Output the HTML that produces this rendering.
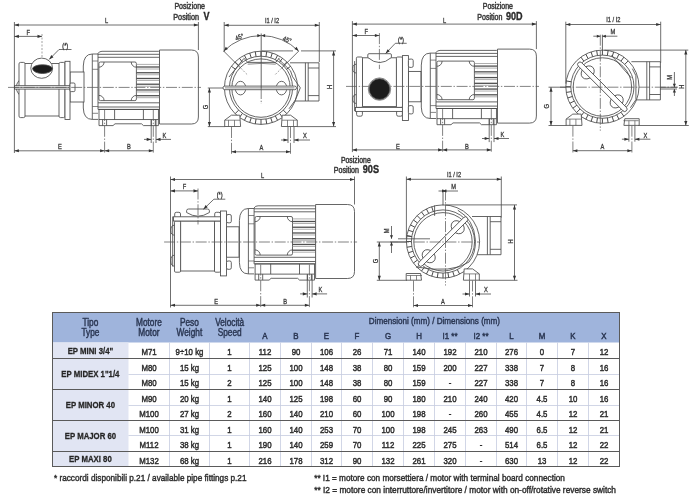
<!DOCTYPE html>
<html><head><meta charset="utf-8"><style>
html,body{margin:0;padding:0;background:#fff;width:694px;height:500px;overflow:hidden}
svg{display:block;will-change:transform}
</style></head><body>
<svg width="694" height="500" viewBox="0 0 694 500">
<style>
.l{stroke:#4a4a4a;stroke-width:.85;fill:none}
.lt{stroke:#555;stroke-width:.7;fill:none}
.dl{stroke:#4a4a4a;stroke-width:.8;fill:none}
.c{stroke:#5a5a5a;stroke-width:.75;fill:none;stroke-dasharray:11 1.7 1.4 1.7}
.ds{stroke:#666;stroke-width:.6;fill:none;stroke-dasharray:2 1.5}
.a{fill:#333;stroke:none}
.fin{fill:#aaa;fill-opacity:.25;stroke:none}
.fd{stroke:#505050;stroke-width:1.3;fill:none}
.fl{stroke:#9a9a9a;stroke-width:.8;fill:none}
.fb{stroke:#4a4a4a;stroke-width:1.0;fill:none}
.tb{stroke:#5a5a5a;stroke-width:1;fill:none}
.tg{stroke:#c5cbe0;stroke-width:.8;fill:none}
text{font-family:"Liberation Sans",sans-serif}
</style>
<rect width="694" height="500" fill="#fff"/>
<defs>
<g id="ms">
<path class="l" d="M98,54 H92.3 Q83.6,54 83.3,66 V108 Q83.6,119.4 92.3,119.4 H98" style="fill:#fff"/>
<line class="l" x1="92.30" y1="54.00" x2="92.30" y2="119.40"/>
<line class="lt" x1="92.30" y1="61.00" x2="98.00" y2="61.00"/>
<line class="lt" x1="92.30" y1="69.30" x2="98.00" y2="69.30"/>
<line class="lt" x1="92.30" y1="106.50" x2="98.00" y2="106.50"/>
<line class="lt" x1="92.30" y1="113.30" x2="98.00" y2="113.30"/>
<path class="l" d="M98,109.4 V53.5 Q99,51.3 102,51.3 H158.5 Q160,51.3 160,53 V109.4 Z" style="fill:#fff"/>
<line class="l" x1="98.00" y1="54.30" x2="160.00" y2="54.30"/>
<line class="l" x1="98.00" y1="57.30" x2="160.00" y2="57.30"/>
<line class="l" x1="98.00" y1="102.80" x2="160.00" y2="102.80"/>
<line class="l" x1="98.00" y1="107.00" x2="160.00" y2="107.00"/>
<rect class="l" x="98.90" y="62.00" width="37.50" height="38.60" rx="1.5"/>
<path class="l" d="M98.9,67.2 A5.2,5.2 0 0 0 104.10000000000001,62"/>
<path class="l" d="M131.20000000000002,62 A5.2,5.2 0 0 0 136.4,67.2"/>
<path class="l" d="M98.9,95.39999999999999 A5.2,5.2 0 0 1 104.10000000000001,100.6"/>
<path class="l" d="M131.20000000000002,100.6 A5.2,5.2 0 0 1 136.4,95.39999999999999"/>
<line class="fl" x1="136.40" y1="64.40" x2="159.60" y2="64.40"/>
<line class="fd" x1="136.40" y1="67.00" x2="159.60" y2="67.00"/>
<line class="fl" x1="136.40" y1="69.00" x2="159.60" y2="69.00"/>
<line class="fd" x1="136.40" y1="72.74" x2="159.60" y2="72.74"/>
<line class="fl" x1="136.40" y1="74.74" x2="159.60" y2="74.74"/>
<line class="fd" x1="136.40" y1="78.48" x2="159.60" y2="78.48"/>
<line class="fl" x1="136.40" y1="80.48" x2="159.60" y2="80.48"/>
<line class="fd" x1="136.40" y1="84.22" x2="159.60" y2="84.22"/>
<line class="fl" x1="136.40" y1="86.22" x2="159.60" y2="86.22"/>
<line class="fd" x1="136.40" y1="89.96" x2="159.60" y2="89.96"/>
<line class="fl" x1="136.40" y1="91.96" x2="159.60" y2="91.96"/>
<line class="fd" x1="136.40" y1="95.70" x2="159.60" y2="95.70"/>
<line class="fl" x1="136.40" y1="97.70" x2="159.60" y2="97.70"/>
<rect class="l" x="99.00" y="109.40" width="59.40" height="10.20" rx="0"/>
<line class="l" x1="114.60" y1="109.40" x2="114.60" y2="119.60"/>
<line class="l" x1="143.40" y1="109.40" x2="143.40" y2="119.60"/>
<path class="l" d="M99,119.6 V125.6 H113 L115,123.8 H141.5 L143.5,125.6 H158.4 V119.6"/>
<line class="l" x1="102.60" y1="119.60" x2="102.60" y2="125.60"/>
<line class="l" x1="106.60" y1="119.60" x2="106.60" y2="125.60"/>
<line class="l" x1="151.30" y1="119.60" x2="151.30" y2="125.60"/>
<line class="l" x1="155.30" y1="119.60" x2="155.30" y2="125.60"/>
<path class="l" d="M159.5,50 H191.4 Q198.4,50 198.4,57 V117 Q198.4,124 191.4,124 H159.5 Z" style="fill:#fff"/>
</g>
<g id="eb">
<path class="l" d="M29,-25.0 H58 V13.2 H29" style="fill:#fff"/>
<line class="l" x1="44.40" y1="-25.00" x2="44.40" y2="13.20"/>
<line class="l" x1="47.20" y1="-25.00" x2="47.20" y2="13.20"/>
<path class="l" d="M58,-19.8 H47.2"/>
<path class="l" d="M58,7.799999999999999 H47.2"/>
<circle class="l" cx="0.00" cy="0.00" r="36.60" style="fill:#fff"/>
<circle class="l" cx="0.00" cy="0.00" r="31.60"/>
<circle class="l" cx="0.00" cy="0.30" r="29.20"/>
</g>
</defs>
<use href="#ms"/>
<rect class="l" x="70.00" y="72.00" width="14.00" height="30.00" rx="0" style="fill:#fff"/>
<path class="l" d="M19,80.5 Q13.5,87.4 19,94.5"/>
<rect class="l" x="19.00" y="62.40" width="6.00" height="55.20" rx="1.5" style="fill:#fff"/>
<line class="l" x1="25.00" y1="63.50" x2="59.00" y2="63.50"/>
<line class="l" x1="25.00" y1="116.00" x2="59.00" y2="116.00"/>
<rect class="l" x="59.00" y="62.40" width="6.00" height="55.20" rx="1.5" style="fill:#fff"/>
<rect class="l" x="65.00" y="61.30" width="5.00" height="58.20" rx="0" style="fill:#fff"/>
<rect class="l" x="14.50" y="85.70" width="55.50" height="3.40" rx="0" style="fill:#fff"/>
<line class="lt" x1="15.00" y1="87.40" x2="69.00" y2="87.40"/>
<rect class="l" x="70.00" y="83.00" width="5.00" height="8.60" rx="1.2" style="fill:#fff"/>
<ellipse class="l" cx="41.70" cy="68.20" rx="10.90" ry="10.10" style="fill:#fff"/>
<path class="l" d="M32.6,68.6 A9.9,3.8 0 0 1 52.4,68.6 A9.9,4.9 0 0 1 32.6,68.6 Z" style="fill:#1c1c1c"/>
<line class="c" x1="8" y1="87.4" x2="201" y2="87.4"/>
<line class="dl" x1="14.40" y1="22.00" x2="14.40" y2="153.00"/>
<line class="dl" x1="14.40" y1="25.00" x2="198.40" y2="25.00"/>
<polygon class="a" points="14.40,25.00 18.90,23.45 18.90,26.55"/>
<polygon class="a" points="198.40,25.00 193.90,23.45 193.90,26.55"/>
<text transform="translate(106.50,23.40) scale(0.85,1)" font-size="6.7" text-anchor="middle" fill="#3a3a3a" stroke="#3a3a3a" stroke-width="0.3">L</text>
<line class="dl" x1="198.40" y1="22.00" x2="198.40" y2="50.00"/>
<line class="dl" x1="14.40" y1="36.40" x2="42.00" y2="36.40"/>
<polygon class="a" points="14.40,36.40 18.90,34.85 18.90,37.95"/>
<polygon class="a" points="42.00,36.40 37.50,34.85 37.50,37.95"/>
<text transform="translate(28.30,34.90) scale(0.85,1)" font-size="6.7" text-anchor="middle" fill="#3a3a3a" stroke="#3a3a3a" stroke-width="0.3">F</text>
<line class="dl" x1="14.40" y1="150.80" x2="104.60" y2="150.80"/>
<polygon class="a" points="14.40,150.80 18.90,149.25 18.90,152.35"/>
<polygon class="a" points="104.60,150.80 100.10,149.25 100.10,152.35"/>
<text transform="translate(60.00,149.40) scale(0.85,1)" font-size="6.7" text-anchor="middle" fill="#3a3a3a" stroke="#3a3a3a" stroke-width="0.3">E</text>
<line class="dl" x1="104.60" y1="150.80" x2="153.30" y2="150.80"/>
<polygon class="a" points="104.60,150.80 109.10,149.25 109.10,152.35"/>
<polygon class="a" points="153.30,150.80 148.80,149.25 148.80,152.35"/>
<text transform="translate(129.00,149.40) scale(0.85,1)" font-size="6.7" text-anchor="middle" fill="#3a3a3a" stroke="#3a3a3a" stroke-width="0.3">B</text>
<line class="c" x1="104.60" y1="110.00" x2="104.60" y2="153.00"/>
<line class="c" x1="153.30" y1="110.00" x2="153.30" y2="153.00"/>
<line class="dl" x1="151.20" y1="120.00" x2="151.20" y2="143.00"/>
<line class="dl" x1="156.00" y1="120.00" x2="156.00" y2="143.00"/>
<line class="dl" x1="144.00" y1="139.40" x2="151.20" y2="139.40"/>
<polygon class="a" points="151.20,139.40 146.70,137.85 146.70,140.95"/>
<line class="dl" x1="156.00" y1="139.40" x2="171.00" y2="139.40"/>
<polygon class="a" points="156.00,139.40 160.50,137.85 160.50,140.95"/>
<text transform="translate(164.40,137.90) scale(0.85,1)" font-size="6.7" text-anchor="middle" fill="#3a3a3a" stroke="#3a3a3a" stroke-width="0.3">K</text>
<line class="ds" x1="42.00" y1="34.00" x2="42.00" y2="57.00"/>
<text transform="translate(65.25,47.70) scale(0.85,1)" font-size="6.6" text-anchor="middle" fill="#333" stroke="#333" stroke-width="0.3">(*)</text>
<line class="dl" x1="59.00" y1="49.50" x2="71.50" y2="49.50"/>
<line class="dl" x1="59.00" y1="49.50" x2="49.20" y2="59.40"/>
<polygon class="a" points="49.20,59.40 51.26,55.11 53.47,57.29"/>
<g transform="translate(338,-0.9)">
<use href="#ms"/>
<rect class="l" x="70.40" y="72.30" width="12.50" height="30.40" rx="0" style="fill:#fff"/>
<path class="l" d="M18.4,65.1 Q14.6,65.1 14.8,69.5 Q14.6,73.9 18.4,73.9"/>
<path class="l" d="M18.4,95.5 Q14.6,95.5 14.8,99.9 Q14.6,104.3 18.4,104.3"/>
<line class="l" x1="16.60" y1="62.00" x2="16.60" y2="112.00"/>
<rect class="l" x="24.50" y="58.70" width="34.00" height="48.80" rx="0" style="fill:#fff"/>
<rect class="l" x="18.40" y="57.90" width="6.10" height="50.40" rx="1.2" style="fill:#fff"/>
<rect class="l" x="58.40" y="57.90" width="6.10" height="50.40" rx="1.2" style="fill:#fff"/>
<rect class="l" x="18.60" y="111.30" width="5.80" height="5.80" rx="1.6" style="fill:#fff"/>
<rect class="l" x="58.60" y="111.30" width="5.80" height="5.80" rx="1.6" style="fill:#fff"/>
<rect class="l" x="17.40" y="108.30" width="47.50" height="4.00" rx="0" style="fill:#fff"/>
<rect class="l" x="64.40" y="56.50" width="6.00" height="64.90" rx="0" style="fill:#fff"/>
<rect class="l" x="70.40" y="60.00" width="4.80" height="8.30" rx="1.5" style="fill:#fff"/>
<rect class="l" x="70.40" y="106.50" width="4.80" height="8.30" rx="1.5" style="fill:#fff"/>
<path class="l" d="M29.8,58.4 V55.8 Q29.8,54.6 31,54.6 H52.2 Q53.4,54.6 53.4,55.8 V58.4 Q41.6,68.6 29.8,58.4 Z" style="fill:#fff"/>
<line class="c" x1="8" y1="87.3" x2="201" y2="87.3"/>
<circle class="lt" cx="41.50" cy="90.00" r="11.20" style="fill:#fff"/>
<circle class="l" cx="41.50" cy="90.00" r="10.30" style="fill:#1c1c1c"/>
<line class="c" x1="41.40" y1="34.00" x2="41.40" y2="70.00"/>
<line class="dl" x1="14.40" y1="22.00" x2="14.40" y2="153.00"/>
<line class="dl" x1="14.40" y1="25.00" x2="198.40" y2="25.00"/>
<polygon class="a" points="14.40,25.00 18.90,23.45 18.90,26.55"/>
<polygon class="a" points="198.40,25.00 193.90,23.45 193.90,26.55"/>
<text transform="translate(106.50,23.40) scale(0.85,1)" font-size="6.7" text-anchor="middle" fill="#3a3a3a" stroke="#3a3a3a" stroke-width="0.3">L</text>
<line class="dl" x1="198.40" y1="22.00" x2="198.40" y2="50.00"/>
<line class="dl" x1="14.40" y1="36.40" x2="41.40" y2="36.40"/>
<polygon class="a" points="14.40,36.40 18.90,34.85 18.90,37.95"/>
<polygon class="a" points="41.40,36.40 36.90,34.85 36.90,37.95"/>
<text transform="translate(28.30,34.90) scale(0.85,1)" font-size="6.7" text-anchor="middle" fill="#3a3a3a" stroke="#3a3a3a" stroke-width="0.3">F</text>
<line class="dl" x1="14.40" y1="150.80" x2="104.60" y2="150.80"/>
<polygon class="a" points="14.40,150.80 18.90,149.25 18.90,152.35"/>
<polygon class="a" points="104.60,150.80 100.10,149.25 100.10,152.35"/>
<text transform="translate(60.00,149.40) scale(0.85,1)" font-size="6.7" text-anchor="middle" fill="#3a3a3a" stroke="#3a3a3a" stroke-width="0.3">E</text>
<line class="dl" x1="104.60" y1="150.80" x2="153.30" y2="150.80"/>
<polygon class="a" points="104.60,150.80 109.10,149.25 109.10,152.35"/>
<polygon class="a" points="153.30,150.80 148.80,149.25 148.80,152.35"/>
<text transform="translate(129.00,149.40) scale(0.85,1)" font-size="6.7" text-anchor="middle" fill="#3a3a3a" stroke="#3a3a3a" stroke-width="0.3">B</text>
<line class="c" x1="104.60" y1="110.00" x2="104.60" y2="153.00"/>
<line class="c" x1="153.30" y1="110.00" x2="153.30" y2="153.00"/>
<line class="dl" x1="151.20" y1="120.00" x2="151.20" y2="143.00"/>
<line class="dl" x1="156.00" y1="120.00" x2="156.00" y2="143.00"/>
<line class="dl" x1="144.00" y1="139.40" x2="151.20" y2="139.40"/>
<polygon class="a" points="151.20,139.40 146.70,137.85 146.70,140.95"/>
<line class="dl" x1="156.00" y1="139.40" x2="171.00" y2="139.40"/>
<polygon class="a" points="156.00,139.40 160.50,137.85 160.50,140.95"/>
<text transform="translate(164.40,137.90) scale(0.85,1)" font-size="6.7" text-anchor="middle" fill="#3a3a3a" stroke="#3a3a3a" stroke-width="0.3">K</text>
<text transform="translate(63.00,42.40) scale(0.85,1)" font-size="6.6" text-anchor="middle" fill="#333" stroke="#333" stroke-width="0.3">(*)</text>
<line class="dl" x1="57.30" y1="44.20" x2="68.70" y2="44.20"/>
<line class="dl" x1="57.30" y1="44.20" x2="47.60" y2="54.40"/>
<polygon class="a" points="47.60,54.40 49.58,50.07 51.82,52.21"/>
</g>
<g transform="translate(156.1,154.5)">
<use href="#ms"/>
<rect class="l" x="70.40" y="72.30" width="12.50" height="30.40" rx="0" style="fill:#fff"/>
<path class="l" d="M18.4,70.7 Q14.6,70.7 14.8,75.7 Q14.6,80.7 18.4,80.7"/>
<path class="l" d="M18.4,100.7 Q14.6,100.7 14.8,106.2 Q14.6,111.7 18.4,111.7"/>
<line class="l" x1="16.60" y1="62.00" x2="16.60" y2="112.00"/>
<rect class="l" x="24.50" y="66.50" width="34.00" height="50.00" rx="0" style="fill:#fff"/>
<rect class="l" x="18.40" y="66.50" width="6.10" height="51.20" rx="1.2" style="fill:#fff"/>
<rect class="l" x="58.40" y="66.50" width="6.10" height="51.20" rx="1.2" style="fill:#fff"/>
<rect class="l" x="18.60" y="57.80" width="5.80" height="5.50" rx="1.6" style="fill:#fff"/>
<rect class="l" x="58.60" y="57.80" width="5.80" height="5.50" rx="1.6" style="fill:#fff"/>
<rect class="l" x="17.40" y="62.30" width="47.50" height="4.20" rx="0" style="fill:#fff"/>
<rect class="l" x="64.40" y="56.50" width="6.00" height="64.90" rx="0" style="fill:#fff"/>
<rect class="l" x="70.40" y="60.00" width="4.80" height="8.30" rx="1.5" style="fill:#fff"/>
<rect class="l" x="70.40" y="106.50" width="4.80" height="8.30" rx="1.5" style="fill:#fff"/>
<path class="l" d="M30.5,58.0 V56.2 Q30.5,54.5 32.5,54.5 H51.3 Q53.3,54.5 53.3,56.2 V58.0 Q41.9,65.4 30.5,58.0 Z" style="fill:#fff"/>
<line class="c" x1="8" y1="87.5" x2="201" y2="87.5"/>
<line class="c" x1="41.90" y1="34.00" x2="41.90" y2="70.00"/>
<line class="dl" x1="14.40" y1="22.00" x2="14.40" y2="153.00"/>
<line class="dl" x1="14.40" y1="25.00" x2="198.40" y2="25.00"/>
<polygon class="a" points="14.40,25.00 18.90,23.45 18.90,26.55"/>
<polygon class="a" points="198.40,25.00 193.90,23.45 193.90,26.55"/>
<text transform="translate(106.50,23.40) scale(0.85,1)" font-size="6.7" text-anchor="middle" fill="#3a3a3a" stroke="#3a3a3a" stroke-width="0.3">L</text>
<line class="dl" x1="198.40" y1="22.00" x2="198.40" y2="50.00"/>
<line class="dl" x1="14.40" y1="36.40" x2="41.90" y2="36.40"/>
<polygon class="a" points="14.40,36.40 18.90,34.85 18.90,37.95"/>
<polygon class="a" points="41.90,36.40 37.40,34.85 37.40,37.95"/>
<text transform="translate(28.30,34.90) scale(0.85,1)" font-size="6.7" text-anchor="middle" fill="#3a3a3a" stroke="#3a3a3a" stroke-width="0.3">F</text>
<line class="dl" x1="14.40" y1="150.80" x2="104.60" y2="150.80"/>
<polygon class="a" points="14.40,150.80 18.90,149.25 18.90,152.35"/>
<polygon class="a" points="104.60,150.80 100.10,149.25 100.10,152.35"/>
<text transform="translate(60.00,149.40) scale(0.85,1)" font-size="6.7" text-anchor="middle" fill="#3a3a3a" stroke="#3a3a3a" stroke-width="0.3">E</text>
<line class="dl" x1="104.60" y1="150.80" x2="153.30" y2="150.80"/>
<polygon class="a" points="104.60,150.80 109.10,149.25 109.10,152.35"/>
<polygon class="a" points="153.30,150.80 148.80,149.25 148.80,152.35"/>
<text transform="translate(129.00,149.40) scale(0.85,1)" font-size="6.7" text-anchor="middle" fill="#3a3a3a" stroke="#3a3a3a" stroke-width="0.3">B</text>
<line class="c" x1="104.60" y1="110.00" x2="104.60" y2="153.00"/>
<line class="c" x1="153.30" y1="110.00" x2="153.30" y2="153.00"/>
<line class="dl" x1="151.20" y1="120.00" x2="151.20" y2="143.00"/>
<line class="dl" x1="156.00" y1="120.00" x2="156.00" y2="143.00"/>
<line class="dl" x1="144.00" y1="139.40" x2="151.20" y2="139.40"/>
<polygon class="a" points="151.20,139.40 146.70,137.85 146.70,140.95"/>
<line class="dl" x1="156.00" y1="139.40" x2="171.00" y2="139.40"/>
<polygon class="a" points="156.00,139.40 160.50,137.85 160.50,140.95"/>
<text transform="translate(164.40,137.90) scale(0.85,1)" font-size="6.7" text-anchor="middle" fill="#3a3a3a" stroke="#3a3a3a" stroke-width="0.3">K</text>
<text transform="translate(63.50,42.90) scale(0.85,1)" font-size="6.6" text-anchor="middle" fill="#333" stroke="#333" stroke-width="0.3">(*)</text>
<line class="dl" x1="57.80" y1="44.70" x2="69.20" y2="44.70"/>
<line class="dl" x1="57.80" y1="44.70" x2="47.30" y2="54.80"/>
<polygon class="a" points="47.30,54.80 49.47,50.56 51.62,52.80"/>
</g>
<g transform="translate(261,87.8)">
<use href="#eb"/>
<path class="l" d="M29.5,-17 L31.6,-11 L39.3,0 L34.5,12 L28,21"/>
<path class="l" d="M-17.5,-30 L-13.3,-25.4 H14.7 L18.5,-30"/>
<path class="lt" d="M-13.3,-23.6 Q0,-25.2 14.7,-23.6"/>
<line class="l" x1="-17.40" y1="-29.00" x2="-32.00" y2="-10.80"/>
<line class="l" x1="17.40" y1="-29.00" x2="29.50" y2="-17.00"/>
<line class="fb" x1="-25.56" y1="-18.57" x2="-29.61" y2="-21.51"/>
<line class="fb" x1="-22.34" y1="-22.34" x2="-25.88" y2="-25.88"/>
<line class="fb" x1="-18.57" y1="-25.56" x2="-21.51" y2="-29.61"/>
<line class="fb" x1="-14.35" y1="-28.16" x2="-16.62" y2="-32.61"/>
<line class="fb" x1="-9.76" y1="-30.05" x2="-11.31" y2="-34.81"/>
<line class="fb" x1="-4.94" y1="-31.21" x2="-5.73" y2="-36.15"/>
<line class="fb" x1="0.00" y1="-31.60" x2="0.00" y2="-36.60"/>
<line class="fb" x1="4.94" y1="-31.21" x2="5.73" y2="-36.15"/>
<line class="fb" x1="9.76" y1="-30.05" x2="11.31" y2="-34.81"/>
<line class="fb" x1="14.35" y1="-28.16" x2="16.62" y2="-32.61"/>
<line class="fb" x1="18.57" y1="-25.56" x2="21.51" y2="-29.61"/>
<line class="fb" x1="22.34" y1="-22.34" x2="25.88" y2="-25.88"/>
<line class="fb" x1="25.56" y1="-18.57" x2="29.61" y2="-21.51"/>
<line class="fb" x1="22.34" y1="22.34" x2="25.88" y2="25.88"/>
<line class="fb" x1="18.57" y1="25.56" x2="21.51" y2="29.61"/>
<line class="fb" x1="14.35" y1="28.16" x2="16.62" y2="32.61"/>
<line class="fb" x1="9.76" y1="30.05" x2="11.31" y2="34.81"/>
<line class="fb" x1="4.94" y1="31.21" x2="5.73" y2="36.15"/>
<line class="fb" x1="0.00" y1="31.60" x2="0.00" y2="36.60"/>
<line class="fb" x1="-4.94" y1="31.21" x2="-5.73" y2="36.15"/>
<line class="fb" x1="-9.76" y1="30.05" x2="-11.31" y2="34.81"/>
<line class="fb" x1="-14.35" y1="28.16" x2="-16.62" y2="32.61"/>
<line class="fb" x1="-18.57" y1="25.56" x2="-21.51" y2="29.61"/>
<line class="fb" x1="-22.34" y1="22.34" x2="-25.88" y2="25.88"/>
<path class="l" d="M-36.30,38.70 L-36.30,32.40 L-29.60,27.40 L-21.20,27.40 L-20.40,38.70 Z" style="fill:#fff"/>
<line class="lt" x1="-36.30" y1="32.40" x2="-21.00" y2="32.40"/>
<line class="lt" x1="-26.50" y1="32.40" x2="-26.50" y2="38.70"/>
<line class="lt" x1="-32.50" y1="32.40" x2="-32.50" y2="38.70"/>
<path class="l" d="M36.30,38.70 L36.30,32.40 L29.60,27.40 L21.20,27.40 L20.40,38.70 Z" style="fill:#fff"/>
<line class="lt" x1="36.30" y1="32.40" x2="21.00" y2="32.40"/>
<line class="lt" x1="26.50" y1="32.40" x2="26.50" y2="38.70"/>
<line class="lt" x1="32.50" y1="32.40" x2="32.50" y2="38.70"/>
<g transform="rotate(0)">
<ellipse class="l" cx="-20.50" cy="0.30" rx="5.30" ry="6.80" style="fill:#fff"/>
<ellipse class="l" cx="20.50" cy="0.30" rx="5.30" ry="6.80" style="fill:#fff"/>
<rect class="l" x="-38.00" y="-1.70" width="73.50" height="3.60" rx="1.8" style="fill:#fff"/>
<line class="lt" x1="-36.00" y1="0.10" x2="33.50" y2="0.10"/>
</g>
</g>
<line class="l" x1="261.20" y1="33.50" x2="261.20" y2="88.00"/>
<line class="c" x1="261.20" y1="88.00" x2="261.20" y2="104.00"/>
<path class="dl" d="M223.72,51.12 A53,53 0 0 1 298.68,51.12"/>
<polygon class="a" points="223.72,51.12 225.81,46.85 228.00,49.04"/>
<polygon class="a" points="298.68,51.12 294.40,49.04 296.59,46.85"/>
<polygon class="a" points="260.80,35.60 257.30,34.05 257.30,37.15"/>
<polygon class="a" points="261.60,35.60 265.10,34.05 265.10,37.15"/>
<line class="dl" x1="223.72" y1="51.12" x2="240.72" y2="68.12"/>
<line class="ds" x1="240.72" y1="68.12" x2="247.72" y2="75.12"/>
<line class="dl" x1="298.68" y1="51.12" x2="281.68" y2="68.12"/>
<line class="ds" x1="281.68" y1="68.12" x2="274.68" y2="75.12"/>
<text transform="translate(240.30,39.20) rotate(-22) scale(0.85,1)" font-size="6.6" text-anchor="middle" fill="#3a3a3a" stroke="#3a3a3a" stroke-width="0.3">45°</text>
<text transform="translate(286.30,41.80) rotate(22) scale(0.85,1)" font-size="6.6" text-anchor="middle" fill="#3a3a3a" stroke="#3a3a3a" stroke-width="0.3">45°</text>
<line class="dl" x1="224.20" y1="25.30" x2="319.30" y2="25.30"/>
<polygon class="a" points="224.20,25.30 228.70,23.75 228.70,26.85"/>
<polygon class="a" points="319.30,25.30 314.80,23.75 314.80,26.85"/>
<text transform="translate(272.00,23.00) scale(0.85,1)" font-size="6.7" text-anchor="middle" fill="#3a3a3a" stroke="#3a3a3a" stroke-width="0.3">I1 / I2</text>
<line class="dl" x1="224.20" y1="22.00" x2="224.20" y2="52.00"/>
<line class="dl" x1="319.30" y1="22.00" x2="319.30" y2="62.00"/>
<line class="dl" x1="262.00" y1="50.90" x2="293.00" y2="50.90"/>
<line class="dl" x1="301.00" y1="50.90" x2="336.00" y2="50.90"/>
<line class="dl" x1="333.60" y1="50.90" x2="333.60" y2="126.60"/>
<polygon class="a" points="333.60,50.90 332.05,55.40 335.15,55.40"/>
<polygon class="a" points="333.60,126.60 332.05,122.10 335.15,122.10"/>
<text transform="translate(331.90,87.00) rotate(-90) scale(0.85,1)" font-size="6.7" text-anchor="middle" fill="#3a3a3a" stroke="#3a3a3a" stroke-width="0.3">H</text>
<line class="dl" x1="297.00" y1="126.60" x2="336.00" y2="126.60"/>
<line class="dl" x1="207.80" y1="88.00" x2="223.00" y2="88.00"/>
<line class="dl" x1="207.80" y1="126.60" x2="225.00" y2="126.60"/>
<line class="dl" x1="209.40" y1="88.00" x2="209.40" y2="126.60"/>
<polygon class="a" points="209.40,88.00 207.85,92.50 210.95,92.50"/>
<polygon class="a" points="209.40,126.60 207.85,122.10 210.95,122.10"/>
<text transform="translate(207.80,107.00) rotate(-90) scale(0.85,1)" font-size="6.7" text-anchor="middle" fill="#3a3a3a" stroke="#3a3a3a" stroke-width="0.3">G</text>
<line class="c" x1="231.50" y1="127.00" x2="231.50" y2="154.00"/>
<line class="c" x1="290.50" y1="127.00" x2="290.50" y2="154.00"/>
<line class="dl" x1="231.50" y1="151.80" x2="290.50" y2="151.80"/>
<polygon class="a" points="231.50,151.80 236.00,150.25 236.00,153.35"/>
<polygon class="a" points="290.50,151.80 286.00,150.25 286.00,153.35"/>
<text transform="translate(261.40,150.40) scale(0.85,1)" font-size="6.7" text-anchor="middle" fill="#3a3a3a" stroke="#3a3a3a" stroke-width="0.3">A</text>
<line class="dl" x1="288.00" y1="127.00" x2="288.00" y2="143.00"/>
<line class="dl" x1="294.00" y1="127.00" x2="294.00" y2="143.00"/>
<line class="dl" x1="281.00" y1="140.00" x2="288.00" y2="140.00"/>
<polygon class="a" points="288.00,140.00 283.50,138.45 283.50,141.55"/>
<line class="dl" x1="294.00" y1="140.00" x2="310.00" y2="140.00"/>
<polygon class="a" points="294.00,140.00 298.50,138.45 298.50,141.55"/>
<text transform="translate(305.00,138.40) scale(0.85,1)" font-size="6.7" text-anchor="middle" fill="#3a3a3a" stroke="#3a3a3a" stroke-width="0.3">X</text>
<g transform="translate(602.4,86.7)">
<use href="#eb"/>
<path class="l" d="M30,-18 L33.5,-11 L33.5,13 L28,21"/>
<line class="fb" x1="-18.57" y1="-25.56" x2="-21.51" y2="-29.61"/>
<line class="fb" x1="-14.35" y1="-28.16" x2="-16.62" y2="-32.61"/>
<line class="fb" x1="-9.76" y1="-30.05" x2="-11.31" y2="-34.81"/>
<line class="fb" x1="-4.94" y1="-31.21" x2="-5.73" y2="-36.15"/>
<line class="fb" x1="0.00" y1="-31.60" x2="0.00" y2="-36.60"/>
<line class="fb" x1="4.94" y1="-31.21" x2="5.73" y2="-36.15"/>
<line class="fb" x1="9.76" y1="-30.05" x2="11.31" y2="-34.81"/>
<line class="fb" x1="14.35" y1="-28.16" x2="16.62" y2="-32.61"/>
<line class="fb" x1="18.57" y1="-25.56" x2="21.51" y2="-29.61"/>
<line class="fb" x1="22.34" y1="-22.34" x2="25.88" y2="-25.88"/>
<line class="fb" x1="18.57" y1="25.56" x2="21.51" y2="29.61"/>
<line class="fb" x1="14.35" y1="28.16" x2="16.62" y2="32.61"/>
<line class="fb" x1="9.76" y1="30.05" x2="11.31" y2="34.81"/>
<line class="fb" x1="4.94" y1="31.21" x2="5.73" y2="36.15"/>
<line class="fb" x1="0.00" y1="31.60" x2="0.00" y2="36.60"/>
<line class="fb" x1="-4.94" y1="31.21" x2="-5.73" y2="36.15"/>
<line class="fb" x1="-9.76" y1="30.05" x2="-11.31" y2="34.81"/>
<line class="fb" x1="-14.35" y1="28.16" x2="-16.62" y2="32.61"/>
<line class="fb" x1="-18.57" y1="25.56" x2="-21.51" y2="29.61"/>
<line class="fb" x1="-22.34" y1="22.34" x2="-25.88" y2="25.88"/>
<line class="fb" x1="-25.56" y1="18.57" x2="-29.61" y2="21.51"/>
<line class="fb" x1="-28.16" y1="14.35" x2="-32.61" y2="16.62"/>
<line class="fb" x1="-30.05" y1="9.76" x2="-34.81" y2="11.31"/>
<line class="fb" x1="-31.21" y1="4.94" x2="-36.15" y2="5.73"/>
<line class="fb" x1="-31.60" y1="0.00" x2="-36.60" y2="0.00"/>
<line class="fb" x1="-31.21" y1="-4.94" x2="-36.15" y2="-5.73"/>
<line class="l" x1="9.10" y1="-31.40" x2="28.80" y2="-8.90"/>
<path class="l" d="M-36.30,38.70 L-36.30,32.40 L-29.60,27.40 L-21.20,27.40 L-20.40,38.70 Z" style="fill:#fff"/>
<line class="lt" x1="-36.30" y1="32.40" x2="-21.00" y2="32.40"/>
<line class="lt" x1="-26.50" y1="32.40" x2="-26.50" y2="38.70"/>
<line class="lt" x1="-32.50" y1="32.40" x2="-32.50" y2="38.70"/>
<path class="l" d="M36.80,38.70 L36.80,32.00 L22.40,32.00 L21.50,38.70 Z" style="fill:#fff"/>
<line class="lt" x1="36.30" y1="34.00" x2="21.00" y2="34.00"/>
<line class="lt" x1="26.50" y1="34.00" x2="26.50" y2="38.70"/>
<line class="lt" x1="32.50" y1="34.00" x2="32.50" y2="38.70"/>
<g transform="rotate(45)">
<ellipse class="l" cx="-20.50" cy="0.30" rx="5.80" ry="7.20" style="fill:#fff"/>
<ellipse class="l" cx="20.50" cy="0.30" rx="5.80" ry="7.20" style="fill:#fff"/>
<rect class="l" x="-34.00" y="-2.30" width="68.00" height="4.80" rx="2.4" style="fill:#fff"/>
</g>
</g>
<line class="c" x1="560.00" y1="87.20" x2="678.00" y2="87.20"/>
<line class="l" x1="602.40" y1="34.70" x2="602.40" y2="50.70"/>
<line class="c" x1="600.30" y1="34.70" x2="600.30" y2="130.70"/>
<line class="dl" x1="565.80" y1="21.70" x2="565.80" y2="83.70"/>
<line class="dl" x1="660.70" y1="21.70" x2="660.70" y2="62.70"/>
<line class="dl" x1="565.80" y1="24.50" x2="660.70" y2="24.50"/>
<polygon class="a" points="565.80,24.50 570.30,22.95 570.30,26.05"/>
<polygon class="a" points="660.70,24.50 656.20,22.95 656.20,26.05"/>
<text transform="translate(613.40,21.90) scale(0.85,1)" font-size="6.7" text-anchor="middle" fill="#3a3a3a" stroke="#3a3a3a" stroke-width="0.3">I1 / I2</text>
<line class="dl" x1="593.30" y1="36.20" x2="600.30" y2="36.20"/>
<polygon class="a" points="600.30,36.20 596.80,34.65 596.80,37.75"/>
<line class="dl" x1="602.40" y1="36.20" x2="617.40" y2="36.20"/>
<polygon class="a" points="602.40,36.20 605.90,34.65 605.90,37.75"/>
<text transform="translate(612.90,34.10) scale(0.85,1)" font-size="6.7" text-anchor="middle" fill="#3a3a3a" stroke="#3a3a3a" stroke-width="0.3">M</text>
<line class="dl" x1="604.40" y1="50.10" x2="688.30" y2="50.10"/>
<line class="dl" x1="685.80" y1="50.10" x2="685.80" y2="125.50"/>
<polygon class="a" points="685.80,50.10 684.25,54.60 687.35,54.60"/>
<polygon class="a" points="685.80,125.50 684.25,121.00 687.35,121.00"/>
<text transform="translate(684.20,86.70) rotate(-90) scale(0.85,1)" font-size="6.7" text-anchor="middle" fill="#3a3a3a" stroke="#3a3a3a" stroke-width="0.3">H</text>
<line class="dl" x1="638.40" y1="125.50" x2="688.80" y2="125.50"/>
<line class="dl" x1="548.50" y1="87.20" x2="566.40" y2="87.20"/>
<line class="dl" x1="548.50" y1="125.50" x2="566.40" y2="125.50"/>
<line class="dl" x1="551.00" y1="87.20" x2="551.00" y2="125.50"/>
<polygon class="a" points="551.00,87.20 549.45,91.70 552.55,91.70"/>
<polygon class="a" points="551.00,125.50 549.45,121.00 552.55,121.00"/>
<text transform="translate(549.40,106.20) rotate(-90) scale(0.85,1)" font-size="6.7" text-anchor="middle" fill="#3a3a3a" stroke="#3a3a3a" stroke-width="0.3">G</text>
<line class="c" x1="572.90" y1="125.70" x2="572.90" y2="152.70"/>
<line class="c" x1="631.90" y1="125.70" x2="631.90" y2="152.70"/>
<line class="dl" x1="572.90" y1="150.70" x2="631.90" y2="150.70"/>
<polygon class="a" points="572.90,150.70 577.40,149.15 577.40,152.25"/>
<polygon class="a" points="631.90,150.70 627.40,149.15 627.40,152.25"/>
<text transform="translate(602.40,149.30) scale(0.85,1)" font-size="6.7" text-anchor="middle" fill="#3a3a3a" stroke="#3a3a3a" stroke-width="0.3">A</text>
<line class="dl" x1="628.90" y1="125.70" x2="628.90" y2="141.70"/>
<line class="dl" x1="634.90" y1="125.70" x2="634.90" y2="141.70"/>
<line class="dl" x1="621.90" y1="139.20" x2="628.90" y2="139.20"/>
<polygon class="a" points="628.90,139.20 624.40,137.65 624.40,140.75"/>
<line class="dl" x1="634.90" y1="139.20" x2="650.40" y2="139.20"/>
<polygon class="a" points="634.90,139.20 639.40,137.65 639.40,140.75"/>
<text transform="translate(645.40,137.60) scale(0.85,1)" font-size="6.7" text-anchor="middle" fill="#3a3a3a" stroke="#3a3a3a" stroke-width="0.3">X</text>
<line class="dl" x1="660.00" y1="87.30" x2="677.00" y2="87.30"/>
<line class="dl" x1="660.00" y1="89.00" x2="677.00" y2="89.00"/>
<line class="dl" x1="674.40" y1="72.00" x2="674.40" y2="87.30"/>
<polygon class="a" points="674.40,87.30 672.85,83.80 675.95,83.80"/>
<line class="dl" x1="674.40" y1="89.00" x2="674.40" y2="96.00"/>
<polygon class="a" points="674.40,89.00 672.85,92.50 675.95,92.50"/>
<text transform="translate(672.40,77.40) rotate(-90) scale(0.85,1)" font-size="6.7" text-anchor="middle" fill="#3a3a3a" stroke="#3a3a3a" stroke-width="0.3">M</text>
<g transform="translate(443,241.5)">
<use href="#eb"/>
<path class="l" d="M14.8,-31.3 Q31,-22 32.4,-1.7 Q33,12 26,20.5 Q10,32 -27,25.5"/>
<line class="fb" x1="-31.21" y1="-4.94" x2="-36.15" y2="-5.73"/>
<line class="fb" x1="-30.05" y1="-9.76" x2="-34.81" y2="-11.31"/>
<line class="fb" x1="-28.16" y1="-14.35" x2="-32.61" y2="-16.62"/>
<line class="fb" x1="-25.56" y1="-18.57" x2="-29.61" y2="-21.51"/>
<line class="fb" x1="-22.34" y1="-22.34" x2="-25.88" y2="-25.88"/>
<line class="fb" x1="-18.57" y1="-25.56" x2="-21.51" y2="-29.61"/>
<line class="fb" x1="-14.35" y1="-28.16" x2="-16.62" y2="-32.61"/>
<line class="fb" x1="-9.76" y1="-30.05" x2="-11.31" y2="-34.81"/>
<line class="fb" x1="14.35" y1="28.16" x2="16.62" y2="32.61"/>
<line class="fb" x1="9.76" y1="30.05" x2="11.31" y2="34.81"/>
<line class="fb" x1="4.94" y1="31.21" x2="5.73" y2="36.15"/>
<line class="fb" x1="0.00" y1="31.60" x2="0.00" y2="36.60"/>
<line class="fb" x1="-4.94" y1="31.21" x2="-5.73" y2="36.15"/>
<line class="fb" x1="-9.76" y1="30.05" x2="-11.31" y2="34.81"/>
<line class="fb" x1="-14.35" y1="28.16" x2="-16.62" y2="32.61"/>
<line class="fb" x1="-18.57" y1="25.56" x2="-21.51" y2="29.61"/>
<line class="fb" x1="-22.34" y1="22.34" x2="-25.88" y2="25.88"/>
<line class="fb" x1="-25.56" y1="18.57" x2="-29.61" y2="21.51"/>
<line class="fb" x1="-28.16" y1="14.35" x2="-32.61" y2="16.62"/>
<line class="fb" x1="-30.05" y1="9.76" x2="-34.81" y2="11.31"/>
<line class="fb" x1="-31.21" y1="4.94" x2="-36.15" y2="5.73"/>
<line class="fb" x1="-31.60" y1="0.00" x2="-36.60" y2="0.00"/>
<line class="fb" x1="-31.21" y1="-4.94" x2="-36.15" y2="-5.73"/>
<line class="l" x1="-8.40" y1="-36.00" x2="-8.40" y2="-25.70"/>
<path class="l" d="M-36.80,38.70 L-36.80,32.00 L-22.40,32.00 L-21.50,38.70 Z" style="fill:#fff"/>
<line class="lt" x1="-36.30" y1="34.00" x2="-21.00" y2="34.00"/>
<line class="lt" x1="-26.50" y1="34.00" x2="-26.50" y2="38.70"/>
<line class="lt" x1="-32.50" y1="34.00" x2="-32.50" y2="38.70"/>
<path class="l" d="M36.30,38.70 L36.30,32.40 L29.60,27.40 L21.20,27.40 L20.40,38.70 Z" style="fill:#fff"/>
<line class="lt" x1="36.30" y1="32.40" x2="21.00" y2="32.40"/>
<line class="lt" x1="26.50" y1="32.40" x2="26.50" y2="38.70"/>
<line class="lt" x1="32.50" y1="32.40" x2="32.50" y2="38.70"/>
<g transform="rotate(-45)">
<ellipse class="l" cx="-20.50" cy="0.30" rx="5.80" ry="7.20" style="fill:#fff"/>
<ellipse class="l" cx="20.50" cy="0.30" rx="5.80" ry="7.20" style="fill:#fff"/>
<rect class="l" x="-34.00" y="-2.30" width="68.00" height="4.80" rx="2.4" style="fill:#fff"/>
</g>
</g>
<line class="c" x1="398.00" y1="242.00" x2="480.00" y2="242.00"/>
<line class="l" x1="443.00" y1="189.50" x2="443.00" y2="205.50"/>
<line class="c" x1="445.50" y1="189.50" x2="445.50" y2="285.50"/>
<line class="dl" x1="406.40" y1="176.50" x2="406.40" y2="238.50"/>
<line class="dl" x1="501.30" y1="176.50" x2="501.30" y2="217.50"/>
<line class="dl" x1="406.40" y1="179.30" x2="501.30" y2="179.30"/>
<polygon class="a" points="406.40,179.30 410.90,177.75 410.90,180.85"/>
<polygon class="a" points="501.30,179.30 496.80,177.75 496.80,180.85"/>
<text transform="translate(454.00,176.70) scale(0.85,1)" font-size="6.7" text-anchor="middle" fill="#3a3a3a" stroke="#3a3a3a" stroke-width="0.3">I1 / I2</text>
<line class="dl" x1="438.50" y1="191.00" x2="445.50" y2="191.00"/>
<polygon class="a" points="445.50,191.00 442.00,189.45 442.00,192.55"/>
<line class="dl" x1="443.00" y1="191.00" x2="458.00" y2="191.00"/>
<polygon class="a" points="443.00,191.00 446.50,189.45 446.50,192.55"/>
<text transform="translate(453.50,188.90) scale(0.85,1)" font-size="6.7" text-anchor="middle" fill="#3a3a3a" stroke="#3a3a3a" stroke-width="0.3">M</text>
<line class="dl" x1="445.00" y1="204.90" x2="517.00" y2="204.90"/>
<line class="dl" x1="514.50" y1="204.90" x2="514.50" y2="280.30"/>
<polygon class="a" points="514.50,204.90 512.95,209.40 516.05,209.40"/>
<polygon class="a" points="514.50,280.30 512.95,275.80 516.05,275.80"/>
<text transform="translate(512.90,241.50) rotate(-90) scale(0.85,1)" font-size="6.7" text-anchor="middle" fill="#3a3a3a" stroke="#3a3a3a" stroke-width="0.3">H</text>
<line class="dl" x1="479.00" y1="280.30" x2="517.50" y2="280.30"/>
<line class="dl" x1="376.80" y1="242.00" x2="407.00" y2="242.00"/>
<line class="dl" x1="376.80" y1="280.30" x2="407.00" y2="280.30"/>
<line class="dl" x1="379.30" y1="242.00" x2="379.30" y2="280.30"/>
<polygon class="a" points="379.30,242.00 377.75,246.50 380.85,246.50"/>
<polygon class="a" points="379.30,280.30 377.75,275.80 380.85,275.80"/>
<text transform="translate(377.70,261.00) rotate(-90) scale(0.85,1)" font-size="6.7" text-anchor="middle" fill="#3a3a3a" stroke="#3a3a3a" stroke-width="0.3">G</text>
<line class="c" x1="413.50" y1="280.50" x2="413.50" y2="307.50"/>
<line class="c" x1="472.50" y1="280.50" x2="472.50" y2="307.50"/>
<line class="dl" x1="413.50" y1="305.50" x2="472.50" y2="305.50"/>
<polygon class="a" points="413.50,305.50 418.00,303.95 418.00,307.05"/>
<polygon class="a" points="472.50,305.50 468.00,303.95 468.00,307.05"/>
<text transform="translate(443.00,304.10) scale(0.85,1)" font-size="6.7" text-anchor="middle" fill="#3a3a3a" stroke="#3a3a3a" stroke-width="0.3">A</text>
<line class="dl" x1="469.50" y1="280.50" x2="469.50" y2="296.50"/>
<line class="dl" x1="475.50" y1="280.50" x2="475.50" y2="296.50"/>
<line class="dl" x1="462.50" y1="294.00" x2="469.50" y2="294.00"/>
<polygon class="a" points="469.50,294.00 465.00,292.45 465.00,295.55"/>
<line class="dl" x1="475.50" y1="294.00" x2="491.00" y2="294.00"/>
<polygon class="a" points="475.50,294.00 480.00,292.45 480.00,295.55"/>
<text transform="translate(486.00,292.40) scale(0.85,1)" font-size="6.7" text-anchor="middle" fill="#3a3a3a" stroke="#3a3a3a" stroke-width="0.3">X</text>
<line class="dl" x1="398.00" y1="238.80" x2="430.00" y2="238.80"/>
<line class="dl" x1="390.00" y1="242.00" x2="398.00" y2="242.00"/>
<line class="dl" x1="391.50" y1="226.00" x2="391.50" y2="238.80"/>
<polygon class="a" points="391.50,238.80 389.95,235.30 393.05,235.30"/>
<line class="dl" x1="391.50" y1="242.00" x2="391.50" y2="253.00"/>
<polygon class="a" points="391.50,242.00 389.95,245.50 393.05,245.50"/>
<text transform="translate(389.40,231.00) rotate(-90) scale(0.85,1)" font-size="6.7" text-anchor="middle" fill="#3a3a3a" stroke="#3a3a3a" stroke-width="0.3">M</text>
<text transform="translate(174.40,8.60)" font-size="8.2" text-anchor="start" fill="#3c3c3c" textLength="30.6" lengthAdjust="spacingAndGlyphs" stroke="#3c3c3c" stroke-width="0.5">Posizione</text>
<text transform="translate(173.30,19.60)" font-size="8.2" text-anchor="start" fill="#3c3c3c" textLength="25.7" lengthAdjust="spacingAndGlyphs" stroke="#3c3c3c" stroke-width="0.5">Position</text>
<text transform="translate(203.60,19.60)" font-size="10.5" text-anchor="start" fill="#2a2a2a" font-weight="bold" textLength="6.0" lengthAdjust="spacingAndGlyphs" stroke="#2a2a2a" stroke-width="0.35">V</text>
<text transform="translate(482.80,8.60)" font-size="8.2" text-anchor="start" fill="#3c3c3c" textLength="30.2" lengthAdjust="spacingAndGlyphs" stroke="#3c3c3c" stroke-width="0.5">Posizione</text>
<text transform="translate(477.30,19.80)" font-size="8.2" text-anchor="start" fill="#3c3c3c" textLength="25.1" lengthAdjust="spacingAndGlyphs" stroke="#3c3c3c" stroke-width="0.5">Position</text>
<text transform="translate(505.90,19.80)" font-size="10.5" text-anchor="start" fill="#2a2a2a" font-weight="bold" textLength="16.6" lengthAdjust="spacingAndGlyphs" stroke="#2a2a2a" stroke-width="0.35">90D</text>
<text transform="translate(341.00,162.60)" font-size="8.2" text-anchor="start" fill="#3c3c3c" textLength="29.7" lengthAdjust="spacingAndGlyphs" stroke="#3c3c3c" stroke-width="0.5">Posizione</text>
<text transform="translate(333.80,172.90)" font-size="8.2" text-anchor="start" fill="#3c3c3c" textLength="25.2" lengthAdjust="spacingAndGlyphs" stroke="#3c3c3c" stroke-width="0.5">Position</text>
<text transform="translate(362.70,172.90)" font-size="10.5" text-anchor="start" fill="#2a2a2a" font-weight="bold" textLength="16.3" lengthAdjust="spacingAndGlyphs" stroke="#2a2a2a" stroke-width="0.35">90S</text>
<rect x="52.5" y="312.5" width="567.0" height="30.0" fill="#9fb4dc"/>
<rect x="52.5" y="342.5" width="76.0" height="124.0" fill="#e1e5f3"/>
<line class="tg" x1="128.50" y1="374.50" x2="619.50" y2="374.50"/>
<line class="tg" x1="128.50" y1="405.50" x2="619.50" y2="405.50"/>
<line class="tg" x1="128.50" y1="435.50" x2="619.50" y2="435.50"/>
<line class="tg" x1="169.50" y1="342.50" x2="169.50" y2="466.50"/>
<line class="tg" x1="209.50" y1="342.50" x2="209.50" y2="466.50"/>
<line class="tg" x1="249.50" y1="342.50" x2="249.50" y2="466.50"/>
<line class="tg" x1="280.50" y1="342.50" x2="280.50" y2="466.50"/>
<line class="tg" x1="311.50" y1="342.50" x2="311.50" y2="466.50"/>
<line class="tg" x1="341.50" y1="342.50" x2="341.50" y2="466.50"/>
<line class="tg" x1="372.50" y1="342.50" x2="372.50" y2="466.50"/>
<line class="tg" x1="403.50" y1="342.50" x2="403.50" y2="466.50"/>
<line class="tg" x1="434.50" y1="342.50" x2="434.50" y2="466.50"/>
<line class="tg" x1="465.50" y1="342.50" x2="465.50" y2="466.50"/>
<line class="tg" x1="496.50" y1="342.50" x2="496.50" y2="466.50"/>
<line class="tg" x1="526.50" y1="342.50" x2="526.50" y2="466.50"/>
<line class="tg" x1="557.50" y1="342.50" x2="557.50" y2="466.50"/>
<line class="tg" x1="588.50" y1="342.50" x2="588.50" y2="466.50"/>
<line class="tb" x1="52.50" y1="358.50" x2="619.50" y2="358.50"/>
<line class="tb" x1="52.50" y1="389.50" x2="619.50" y2="389.50"/>
<line class="tb" x1="52.50" y1="420.50" x2="619.50" y2="420.50"/>
<line class="tb" x1="52.50" y1="451.50" x2="619.50" y2="451.50"/>
<rect class="tb" x="52.5" y="312.5" width="567.0" height="154.0"/>
<text transform="translate(90.40,326.00) scale(0.83,1)" font-size="10" text-anchor="middle" fill="#2b3753" stroke="#2b3753" stroke-width="0.45">Tipo</text>
<text transform="translate(90.40,336.40) scale(0.83,1)" font-size="10" text-anchor="middle" fill="#2b3753" stroke="#2b3753" stroke-width="0.45">Type</text>
<text transform="translate(148.90,326.00) scale(0.83,1)" font-size="10" text-anchor="middle" fill="#2b3753" stroke="#2b3753" stroke-width="0.45">Motore</text>
<text transform="translate(148.90,336.40) scale(0.83,1)" font-size="10" text-anchor="middle" fill="#2b3753" stroke="#2b3753" stroke-width="0.45">Motor</text>
<text transform="translate(189.40,326.00) scale(0.83,1)" font-size="10" text-anchor="middle" fill="#2b3753" stroke="#2b3753" stroke-width="0.45">Peso</text>
<text transform="translate(189.40,336.40) scale(0.83,1)" font-size="10" text-anchor="middle" fill="#2b3753" stroke="#2b3753" stroke-width="0.45">Weight</text>
<text transform="translate(229.70,326.00) scale(0.83,1)" font-size="10" text-anchor="middle" fill="#2b3753" stroke="#2b3753" stroke-width="0.45">Velocità</text>
<text transform="translate(229.70,336.40) scale(0.83,1)" font-size="10" text-anchor="middle" fill="#2b3753" stroke="#2b3753" stroke-width="0.45">Speed</text>
<text transform="translate(434.40,323.70)" font-size="9.6" text-anchor="middle" fill="#2b3753" textLength="131.2" lengthAdjust="spacingAndGlyphs" stroke="#2b3753" stroke-width="0.45">Dimensioni (mm) / Dimensions (mm)</text>
<text transform="translate(265.00,338.80) scale(0.84,1)" font-size="9.4" text-anchor="middle" fill="#2b3753" stroke="#2b3753" stroke-width="0.5">A</text>
<text transform="translate(296.00,338.80) scale(0.84,1)" font-size="9.4" text-anchor="middle" fill="#2b3753" stroke="#2b3753" stroke-width="0.5">B</text>
<text transform="translate(326.50,338.80) scale(0.84,1)" font-size="9.4" text-anchor="middle" fill="#2b3753" stroke="#2b3753" stroke-width="0.5">E</text>
<text transform="translate(357.00,338.80) scale(0.84,1)" font-size="9.4" text-anchor="middle" fill="#2b3753" stroke="#2b3753" stroke-width="0.5">F</text>
<text transform="translate(388.00,338.80) scale(0.84,1)" font-size="9.4" text-anchor="middle" fill="#2b3753" stroke="#2b3753" stroke-width="0.5">G</text>
<text transform="translate(419.00,338.80) scale(0.84,1)" font-size="9.4" text-anchor="middle" fill="#2b3753" stroke="#2b3753" stroke-width="0.5">H</text>
<text transform="translate(450.00,338.80) scale(0.84,1)" font-size="9.4" text-anchor="middle" fill="#2b3753" stroke="#2b3753" stroke-width="0.5">I1 **</text>
<text transform="translate(481.00,338.80) scale(0.84,1)" font-size="9.4" text-anchor="middle" fill="#2b3753" stroke="#2b3753" stroke-width="0.5">I2 **</text>
<text transform="translate(511.50,338.80) scale(0.84,1)" font-size="9.4" text-anchor="middle" fill="#2b3753" stroke="#2b3753" stroke-width="0.5">L</text>
<text transform="translate(542.00,338.80) scale(0.84,1)" font-size="9.4" text-anchor="middle" fill="#2b3753" stroke="#2b3753" stroke-width="0.5">M</text>
<text transform="translate(573.00,338.80) scale(0.84,1)" font-size="9.4" text-anchor="middle" fill="#2b3753" stroke="#2b3753" stroke-width="0.5">K</text>
<text transform="translate(604.00,338.80) scale(0.84,1)" font-size="9.4" text-anchor="middle" fill="#2b3753" stroke="#2b3753" stroke-width="0.5">X</text>
<text transform="translate(149.00,354.50) scale(0.8,1)" font-size="9.8" text-anchor="middle" fill="#2e2e2e" stroke="#2e2e2e" stroke-width="0.5">M71</text>
<text transform="translate(189.50,354.50) scale(0.8,1)" font-size="9.8" text-anchor="middle" fill="#2e2e2e" stroke="#2e2e2e" stroke-width="0.5">9÷10 kg</text>
<text transform="translate(229.50,354.50) scale(0.8,1)" font-size="9.8" text-anchor="middle" fill="#2e2e2e" stroke="#2e2e2e" stroke-width="0.5">1</text>
<text transform="translate(265.00,354.50) scale(0.8,1)" font-size="9.8" text-anchor="middle" fill="#2e2e2e" stroke="#2e2e2e" stroke-width="0.5">112</text>
<text transform="translate(296.00,354.50) scale(0.8,1)" font-size="9.8" text-anchor="middle" fill="#2e2e2e" stroke="#2e2e2e" stroke-width="0.5">90</text>
<text transform="translate(326.50,354.50) scale(0.8,1)" font-size="9.8" text-anchor="middle" fill="#2e2e2e" stroke="#2e2e2e" stroke-width="0.5">106</text>
<text transform="translate(357.00,354.50) scale(0.8,1)" font-size="9.8" text-anchor="middle" fill="#2e2e2e" stroke="#2e2e2e" stroke-width="0.5">26</text>
<text transform="translate(388.00,354.50) scale(0.8,1)" font-size="9.8" text-anchor="middle" fill="#2e2e2e" stroke="#2e2e2e" stroke-width="0.5">71</text>
<text transform="translate(419.00,354.50) scale(0.8,1)" font-size="9.8" text-anchor="middle" fill="#2e2e2e" stroke="#2e2e2e" stroke-width="0.5">140</text>
<text transform="translate(450.00,354.50) scale(0.8,1)" font-size="9.8" text-anchor="middle" fill="#2e2e2e" stroke="#2e2e2e" stroke-width="0.5">192</text>
<text transform="translate(481.00,354.50) scale(0.8,1)" font-size="9.8" text-anchor="middle" fill="#2e2e2e" stroke="#2e2e2e" stroke-width="0.5">210</text>
<text transform="translate(511.50,354.50) scale(0.8,1)" font-size="9.8" text-anchor="middle" fill="#2e2e2e" stroke="#2e2e2e" stroke-width="0.5">276</text>
<text transform="translate(542.00,354.50) scale(0.8,1)" font-size="9.8" text-anchor="middle" fill="#2e2e2e" stroke="#2e2e2e" stroke-width="0.5">0</text>
<text transform="translate(573.00,354.50) scale(0.8,1)" font-size="9.8" text-anchor="middle" fill="#2e2e2e" stroke="#2e2e2e" stroke-width="0.5">7</text>
<text transform="translate(604.00,354.50) scale(0.8,1)" font-size="9.8" text-anchor="middle" fill="#2e2e2e" stroke="#2e2e2e" stroke-width="0.5">12</text>
<text transform="translate(149.00,370.50) scale(0.8,1)" font-size="9.8" text-anchor="middle" fill="#2e2e2e" stroke="#2e2e2e" stroke-width="0.5">M80</text>
<text transform="translate(189.50,370.50) scale(0.8,1)" font-size="9.8" text-anchor="middle" fill="#2e2e2e" stroke="#2e2e2e" stroke-width="0.5">15 kg</text>
<text transform="translate(229.50,370.50) scale(0.8,1)" font-size="9.8" text-anchor="middle" fill="#2e2e2e" stroke="#2e2e2e" stroke-width="0.5">1</text>
<text transform="translate(265.00,370.50) scale(0.8,1)" font-size="9.8" text-anchor="middle" fill="#2e2e2e" stroke="#2e2e2e" stroke-width="0.5">125</text>
<text transform="translate(296.00,370.50) scale(0.8,1)" font-size="9.8" text-anchor="middle" fill="#2e2e2e" stroke="#2e2e2e" stroke-width="0.5">100</text>
<text transform="translate(326.50,370.50) scale(0.8,1)" font-size="9.8" text-anchor="middle" fill="#2e2e2e" stroke="#2e2e2e" stroke-width="0.5">148</text>
<text transform="translate(357.00,370.50) scale(0.8,1)" font-size="9.8" text-anchor="middle" fill="#2e2e2e" stroke="#2e2e2e" stroke-width="0.5">38</text>
<text transform="translate(388.00,370.50) scale(0.8,1)" font-size="9.8" text-anchor="middle" fill="#2e2e2e" stroke="#2e2e2e" stroke-width="0.5">80</text>
<text transform="translate(419.00,370.50) scale(0.8,1)" font-size="9.8" text-anchor="middle" fill="#2e2e2e" stroke="#2e2e2e" stroke-width="0.5">159</text>
<text transform="translate(450.00,370.50) scale(0.8,1)" font-size="9.8" text-anchor="middle" fill="#2e2e2e" stroke="#2e2e2e" stroke-width="0.5">200</text>
<text transform="translate(481.00,370.50) scale(0.8,1)" font-size="9.8" text-anchor="middle" fill="#2e2e2e" stroke="#2e2e2e" stroke-width="0.5">227</text>
<text transform="translate(511.50,370.50) scale(0.8,1)" font-size="9.8" text-anchor="middle" fill="#2e2e2e" stroke="#2e2e2e" stroke-width="0.5">338</text>
<text transform="translate(542.00,370.50) scale(0.8,1)" font-size="9.8" text-anchor="middle" fill="#2e2e2e" stroke="#2e2e2e" stroke-width="0.5">7</text>
<text transform="translate(573.00,370.50) scale(0.8,1)" font-size="9.8" text-anchor="middle" fill="#2e2e2e" stroke="#2e2e2e" stroke-width="0.5">8</text>
<text transform="translate(604.00,370.50) scale(0.8,1)" font-size="9.8" text-anchor="middle" fill="#2e2e2e" stroke="#2e2e2e" stroke-width="0.5">16</text>
<text transform="translate(149.00,386.40) scale(0.8,1)" font-size="9.8" text-anchor="middle" fill="#2e2e2e" stroke="#2e2e2e" stroke-width="0.5">M80</text>
<text transform="translate(189.50,386.40) scale(0.8,1)" font-size="9.8" text-anchor="middle" fill="#2e2e2e" stroke="#2e2e2e" stroke-width="0.5">15 kg</text>
<text transform="translate(229.50,386.40) scale(0.8,1)" font-size="9.8" text-anchor="middle" fill="#2e2e2e" stroke="#2e2e2e" stroke-width="0.5">2</text>
<text transform="translate(265.00,386.40) scale(0.8,1)" font-size="9.8" text-anchor="middle" fill="#2e2e2e" stroke="#2e2e2e" stroke-width="0.5">125</text>
<text transform="translate(296.00,386.40) scale(0.8,1)" font-size="9.8" text-anchor="middle" fill="#2e2e2e" stroke="#2e2e2e" stroke-width="0.5">100</text>
<text transform="translate(326.50,386.40) scale(0.8,1)" font-size="9.8" text-anchor="middle" fill="#2e2e2e" stroke="#2e2e2e" stroke-width="0.5">148</text>
<text transform="translate(357.00,386.40) scale(0.8,1)" font-size="9.8" text-anchor="middle" fill="#2e2e2e" stroke="#2e2e2e" stroke-width="0.5">38</text>
<text transform="translate(388.00,386.40) scale(0.8,1)" font-size="9.8" text-anchor="middle" fill="#2e2e2e" stroke="#2e2e2e" stroke-width="0.5">80</text>
<text transform="translate(419.00,386.40) scale(0.8,1)" font-size="9.8" text-anchor="middle" fill="#2e2e2e" stroke="#2e2e2e" stroke-width="0.5">159</text>
<text transform="translate(450.00,386.40) scale(0.8,1)" font-size="9.8" text-anchor="middle" fill="#2e2e2e" stroke="#2e2e2e" stroke-width="0.5">-</text>
<text transform="translate(481.00,386.40) scale(0.8,1)" font-size="9.8" text-anchor="middle" fill="#2e2e2e" stroke="#2e2e2e" stroke-width="0.5">227</text>
<text transform="translate(511.50,386.40) scale(0.8,1)" font-size="9.8" text-anchor="middle" fill="#2e2e2e" stroke="#2e2e2e" stroke-width="0.5">338</text>
<text transform="translate(542.00,386.40) scale(0.8,1)" font-size="9.8" text-anchor="middle" fill="#2e2e2e" stroke="#2e2e2e" stroke-width="0.5">7</text>
<text transform="translate(573.00,386.40) scale(0.8,1)" font-size="9.8" text-anchor="middle" fill="#2e2e2e" stroke="#2e2e2e" stroke-width="0.5">8</text>
<text transform="translate(604.00,386.40) scale(0.8,1)" font-size="9.8" text-anchor="middle" fill="#2e2e2e" stroke="#2e2e2e" stroke-width="0.5">16</text>
<text transform="translate(149.00,401.50) scale(0.8,1)" font-size="9.8" text-anchor="middle" fill="#2e2e2e" stroke="#2e2e2e" stroke-width="0.5">M90</text>
<text transform="translate(189.50,401.50) scale(0.8,1)" font-size="9.8" text-anchor="middle" fill="#2e2e2e" stroke="#2e2e2e" stroke-width="0.5">20 kg</text>
<text transform="translate(229.50,401.50) scale(0.8,1)" font-size="9.8" text-anchor="middle" fill="#2e2e2e" stroke="#2e2e2e" stroke-width="0.5">1</text>
<text transform="translate(265.00,401.50) scale(0.8,1)" font-size="9.8" text-anchor="middle" fill="#2e2e2e" stroke="#2e2e2e" stroke-width="0.5">140</text>
<text transform="translate(296.00,401.50) scale(0.8,1)" font-size="9.8" text-anchor="middle" fill="#2e2e2e" stroke="#2e2e2e" stroke-width="0.5">125</text>
<text transform="translate(326.50,401.50) scale(0.8,1)" font-size="9.8" text-anchor="middle" fill="#2e2e2e" stroke="#2e2e2e" stroke-width="0.5">198</text>
<text transform="translate(357.00,401.50) scale(0.8,1)" font-size="9.8" text-anchor="middle" fill="#2e2e2e" stroke="#2e2e2e" stroke-width="0.5">60</text>
<text transform="translate(388.00,401.50) scale(0.8,1)" font-size="9.8" text-anchor="middle" fill="#2e2e2e" stroke="#2e2e2e" stroke-width="0.5">90</text>
<text transform="translate(419.00,401.50) scale(0.8,1)" font-size="9.8" text-anchor="middle" fill="#2e2e2e" stroke="#2e2e2e" stroke-width="0.5">180</text>
<text transform="translate(450.00,401.50) scale(0.8,1)" font-size="9.8" text-anchor="middle" fill="#2e2e2e" stroke="#2e2e2e" stroke-width="0.5">210</text>
<text transform="translate(481.00,401.50) scale(0.8,1)" font-size="9.8" text-anchor="middle" fill="#2e2e2e" stroke="#2e2e2e" stroke-width="0.5">240</text>
<text transform="translate(511.50,401.50) scale(0.8,1)" font-size="9.8" text-anchor="middle" fill="#2e2e2e" stroke="#2e2e2e" stroke-width="0.5">420</text>
<text transform="translate(542.00,401.50) scale(0.8,1)" font-size="9.8" text-anchor="middle" fill="#2e2e2e" stroke="#2e2e2e" stroke-width="0.5">4.5</text>
<text transform="translate(573.00,401.50) scale(0.8,1)" font-size="9.8" text-anchor="middle" fill="#2e2e2e" stroke="#2e2e2e" stroke-width="0.5">10</text>
<text transform="translate(604.00,401.50) scale(0.8,1)" font-size="9.8" text-anchor="middle" fill="#2e2e2e" stroke="#2e2e2e" stroke-width="0.5">16</text>
<text transform="translate(149.00,417.40) scale(0.8,1)" font-size="9.8" text-anchor="middle" fill="#2e2e2e" stroke="#2e2e2e" stroke-width="0.5">M100</text>
<text transform="translate(189.50,417.40) scale(0.8,1)" font-size="9.8" text-anchor="middle" fill="#2e2e2e" stroke="#2e2e2e" stroke-width="0.5">27 kg</text>
<text transform="translate(229.50,417.40) scale(0.8,1)" font-size="9.8" text-anchor="middle" fill="#2e2e2e" stroke="#2e2e2e" stroke-width="0.5">2</text>
<text transform="translate(265.00,417.40) scale(0.8,1)" font-size="9.8" text-anchor="middle" fill="#2e2e2e" stroke="#2e2e2e" stroke-width="0.5">160</text>
<text transform="translate(296.00,417.40) scale(0.8,1)" font-size="9.8" text-anchor="middle" fill="#2e2e2e" stroke="#2e2e2e" stroke-width="0.5">140</text>
<text transform="translate(326.50,417.40) scale(0.8,1)" font-size="9.8" text-anchor="middle" fill="#2e2e2e" stroke="#2e2e2e" stroke-width="0.5">210</text>
<text transform="translate(357.00,417.40) scale(0.8,1)" font-size="9.8" text-anchor="middle" fill="#2e2e2e" stroke="#2e2e2e" stroke-width="0.5">60</text>
<text transform="translate(388.00,417.40) scale(0.8,1)" font-size="9.8" text-anchor="middle" fill="#2e2e2e" stroke="#2e2e2e" stroke-width="0.5">100</text>
<text transform="translate(419.00,417.40) scale(0.8,1)" font-size="9.8" text-anchor="middle" fill="#2e2e2e" stroke="#2e2e2e" stroke-width="0.5">198</text>
<text transform="translate(450.00,417.40) scale(0.8,1)" font-size="9.8" text-anchor="middle" fill="#2e2e2e" stroke="#2e2e2e" stroke-width="0.5">-</text>
<text transform="translate(481.00,417.40) scale(0.8,1)" font-size="9.8" text-anchor="middle" fill="#2e2e2e" stroke="#2e2e2e" stroke-width="0.5">260</text>
<text transform="translate(511.50,417.40) scale(0.8,1)" font-size="9.8" text-anchor="middle" fill="#2e2e2e" stroke="#2e2e2e" stroke-width="0.5">455</text>
<text transform="translate(542.00,417.40) scale(0.8,1)" font-size="9.8" text-anchor="middle" fill="#2e2e2e" stroke="#2e2e2e" stroke-width="0.5">4.5</text>
<text transform="translate(573.00,417.40) scale(0.8,1)" font-size="9.8" text-anchor="middle" fill="#2e2e2e" stroke="#2e2e2e" stroke-width="0.5">12</text>
<text transform="translate(604.00,417.40) scale(0.8,1)" font-size="9.8" text-anchor="middle" fill="#2e2e2e" stroke="#2e2e2e" stroke-width="0.5">21</text>
<text transform="translate(149.00,432.50) scale(0.8,1)" font-size="9.8" text-anchor="middle" fill="#2e2e2e" stroke="#2e2e2e" stroke-width="0.5">M100</text>
<text transform="translate(189.50,432.50) scale(0.8,1)" font-size="9.8" text-anchor="middle" fill="#2e2e2e" stroke="#2e2e2e" stroke-width="0.5">31 kg</text>
<text transform="translate(229.50,432.50) scale(0.8,1)" font-size="9.8" text-anchor="middle" fill="#2e2e2e" stroke="#2e2e2e" stroke-width="0.5">1</text>
<text transform="translate(265.00,432.50) scale(0.8,1)" font-size="9.8" text-anchor="middle" fill="#2e2e2e" stroke="#2e2e2e" stroke-width="0.5">160</text>
<text transform="translate(296.00,432.50) scale(0.8,1)" font-size="9.8" text-anchor="middle" fill="#2e2e2e" stroke="#2e2e2e" stroke-width="0.5">140</text>
<text transform="translate(326.50,432.50) scale(0.8,1)" font-size="9.8" text-anchor="middle" fill="#2e2e2e" stroke="#2e2e2e" stroke-width="0.5">253</text>
<text transform="translate(357.00,432.50) scale(0.8,1)" font-size="9.8" text-anchor="middle" fill="#2e2e2e" stroke="#2e2e2e" stroke-width="0.5">70</text>
<text transform="translate(388.00,432.50) scale(0.8,1)" font-size="9.8" text-anchor="middle" fill="#2e2e2e" stroke="#2e2e2e" stroke-width="0.5">100</text>
<text transform="translate(419.00,432.50) scale(0.8,1)" font-size="9.8" text-anchor="middle" fill="#2e2e2e" stroke="#2e2e2e" stroke-width="0.5">198</text>
<text transform="translate(450.00,432.50) scale(0.8,1)" font-size="9.8" text-anchor="middle" fill="#2e2e2e" stroke="#2e2e2e" stroke-width="0.5">245</text>
<text transform="translate(481.00,432.50) scale(0.8,1)" font-size="9.8" text-anchor="middle" fill="#2e2e2e" stroke="#2e2e2e" stroke-width="0.5">263</text>
<text transform="translate(511.50,432.50) scale(0.8,1)" font-size="9.8" text-anchor="middle" fill="#2e2e2e" stroke="#2e2e2e" stroke-width="0.5">490</text>
<text transform="translate(542.00,432.50) scale(0.8,1)" font-size="9.8" text-anchor="middle" fill="#2e2e2e" stroke="#2e2e2e" stroke-width="0.5">6.5</text>
<text transform="translate(573.00,432.50) scale(0.8,1)" font-size="9.8" text-anchor="middle" fill="#2e2e2e" stroke="#2e2e2e" stroke-width="0.5">12</text>
<text transform="translate(604.00,432.50) scale(0.8,1)" font-size="9.8" text-anchor="middle" fill="#2e2e2e" stroke="#2e2e2e" stroke-width="0.5">21</text>
<text transform="translate(149.00,447.80) scale(0.8,1)" font-size="9.8" text-anchor="middle" fill="#2e2e2e" stroke="#2e2e2e" stroke-width="0.5">M112</text>
<text transform="translate(189.50,447.80) scale(0.8,1)" font-size="9.8" text-anchor="middle" fill="#2e2e2e" stroke="#2e2e2e" stroke-width="0.5">38 kg</text>
<text transform="translate(229.50,447.80) scale(0.8,1)" font-size="9.8" text-anchor="middle" fill="#2e2e2e" stroke="#2e2e2e" stroke-width="0.5">1</text>
<text transform="translate(265.00,447.80) scale(0.8,1)" font-size="9.8" text-anchor="middle" fill="#2e2e2e" stroke="#2e2e2e" stroke-width="0.5">190</text>
<text transform="translate(296.00,447.80) scale(0.8,1)" font-size="9.8" text-anchor="middle" fill="#2e2e2e" stroke="#2e2e2e" stroke-width="0.5">140</text>
<text transform="translate(326.50,447.80) scale(0.8,1)" font-size="9.8" text-anchor="middle" fill="#2e2e2e" stroke="#2e2e2e" stroke-width="0.5">259</text>
<text transform="translate(357.00,447.80) scale(0.8,1)" font-size="9.8" text-anchor="middle" fill="#2e2e2e" stroke="#2e2e2e" stroke-width="0.5">70</text>
<text transform="translate(388.00,447.80) scale(0.8,1)" font-size="9.8" text-anchor="middle" fill="#2e2e2e" stroke="#2e2e2e" stroke-width="0.5">112</text>
<text transform="translate(419.00,447.80) scale(0.8,1)" font-size="9.8" text-anchor="middle" fill="#2e2e2e" stroke="#2e2e2e" stroke-width="0.5">225</text>
<text transform="translate(450.00,447.80) scale(0.8,1)" font-size="9.8" text-anchor="middle" fill="#2e2e2e" stroke="#2e2e2e" stroke-width="0.5">275</text>
<text transform="translate(481.00,447.80) scale(0.8,1)" font-size="9.8" text-anchor="middle" fill="#2e2e2e" stroke="#2e2e2e" stroke-width="0.5">-</text>
<text transform="translate(511.50,447.80) scale(0.8,1)" font-size="9.8" text-anchor="middle" fill="#2e2e2e" stroke="#2e2e2e" stroke-width="0.5">514</text>
<text transform="translate(542.00,447.80) scale(0.8,1)" font-size="9.8" text-anchor="middle" fill="#2e2e2e" stroke="#2e2e2e" stroke-width="0.5">6.5</text>
<text transform="translate(573.00,447.80) scale(0.8,1)" font-size="9.8" text-anchor="middle" fill="#2e2e2e" stroke="#2e2e2e" stroke-width="0.5">12</text>
<text transform="translate(604.00,447.80) scale(0.8,1)" font-size="9.8" text-anchor="middle" fill="#2e2e2e" stroke="#2e2e2e" stroke-width="0.5">22</text>
<text transform="translate(149.00,463.50) scale(0.8,1)" font-size="9.8" text-anchor="middle" fill="#2e2e2e" stroke="#2e2e2e" stroke-width="0.5">M132</text>
<text transform="translate(189.50,463.50) scale(0.8,1)" font-size="9.8" text-anchor="middle" fill="#2e2e2e" stroke="#2e2e2e" stroke-width="0.5">68 kg</text>
<text transform="translate(229.50,463.50) scale(0.8,1)" font-size="9.8" text-anchor="middle" fill="#2e2e2e" stroke="#2e2e2e" stroke-width="0.5">1</text>
<text transform="translate(265.00,463.50) scale(0.8,1)" font-size="9.8" text-anchor="middle" fill="#2e2e2e" stroke="#2e2e2e" stroke-width="0.5">216</text>
<text transform="translate(296.00,463.50) scale(0.8,1)" font-size="9.8" text-anchor="middle" fill="#2e2e2e" stroke="#2e2e2e" stroke-width="0.5">178</text>
<text transform="translate(326.50,463.50) scale(0.8,1)" font-size="9.8" text-anchor="middle" fill="#2e2e2e" stroke="#2e2e2e" stroke-width="0.5">312</text>
<text transform="translate(357.00,463.50) scale(0.8,1)" font-size="9.8" text-anchor="middle" fill="#2e2e2e" stroke="#2e2e2e" stroke-width="0.5">90</text>
<text transform="translate(388.00,463.50) scale(0.8,1)" font-size="9.8" text-anchor="middle" fill="#2e2e2e" stroke="#2e2e2e" stroke-width="0.5">132</text>
<text transform="translate(419.00,463.50) scale(0.8,1)" font-size="9.8" text-anchor="middle" fill="#2e2e2e" stroke="#2e2e2e" stroke-width="0.5">261</text>
<text transform="translate(450.00,463.50) scale(0.8,1)" font-size="9.8" text-anchor="middle" fill="#2e2e2e" stroke="#2e2e2e" stroke-width="0.5">320</text>
<text transform="translate(481.00,463.50) scale(0.8,1)" font-size="9.8" text-anchor="middle" fill="#2e2e2e" stroke="#2e2e2e" stroke-width="0.5">-</text>
<text transform="translate(511.50,463.50) scale(0.8,1)" font-size="9.8" text-anchor="middle" fill="#2e2e2e" stroke="#2e2e2e" stroke-width="0.5">630</text>
<text transform="translate(542.00,463.50) scale(0.8,1)" font-size="9.8" text-anchor="middle" fill="#2e2e2e" stroke="#2e2e2e" stroke-width="0.5">13</text>
<text transform="translate(573.00,463.50) scale(0.8,1)" font-size="9.8" text-anchor="middle" fill="#2e2e2e" stroke="#2e2e2e" stroke-width="0.5">12</text>
<text transform="translate(604.00,463.50) scale(0.8,1)" font-size="9.8" text-anchor="middle" fill="#2e2e2e" stroke="#2e2e2e" stroke-width="0.5">22</text>
<text transform="translate(90.40,353.70) scale(0.795,1)" font-size="9.8" text-anchor="middle" fill="#262626" font-weight="bold" stroke="#262626" stroke-width="0.3">EP MINI 3/4&quot;</text>
<text transform="translate(90.40,377.20) scale(0.795,1)" font-size="9.8" text-anchor="middle" fill="#262626" font-weight="bold" stroke="#262626" stroke-width="0.3">EP MIDEX 1&quot;1/4</text>
<text transform="translate(90.40,408.20) scale(0.795,1)" font-size="9.8" text-anchor="middle" fill="#262626" font-weight="bold" stroke="#262626" stroke-width="0.3">EP MINOR 40</text>
<text transform="translate(90.40,439.20) scale(0.795,1)" font-size="9.8" text-anchor="middle" fill="#262626" font-weight="bold" stroke="#262626" stroke-width="0.3">EP MAJOR 60</text>
<text transform="translate(90.40,462.20) scale(0.795,1)" font-size="9.8" text-anchor="middle" fill="#262626" font-weight="bold" stroke="#262626" stroke-width="0.3">EP MAXI 80</text>
<text transform="translate(54.00,481.40)" font-size="9.7" text-anchor="start" fill="#2e2e2e" textLength="192.5" lengthAdjust="spacingAndGlyphs" stroke="#2e2e2e" stroke-width="0.45">* raccordi disponibili p.21 / available pipe fittings p.21</text>
<text transform="translate(314.20,481.00)" font-size="9.7" text-anchor="start" fill="#2e2e2e" textLength="250.7" lengthAdjust="spacingAndGlyphs" stroke="#2e2e2e" stroke-width="0.45">** I1 = motore con morsettiera / motor with terminal board connection</text>
<text transform="translate(314.20,493.20)" font-size="9.7" text-anchor="start" fill="#2e2e2e" textLength="301.8" lengthAdjust="spacingAndGlyphs" stroke="#2e2e2e" stroke-width="0.45">** I2 = motore con interruttore/invertitore / motor with on-off/rotative reverse switch</text>
</svg>
</body></html>
